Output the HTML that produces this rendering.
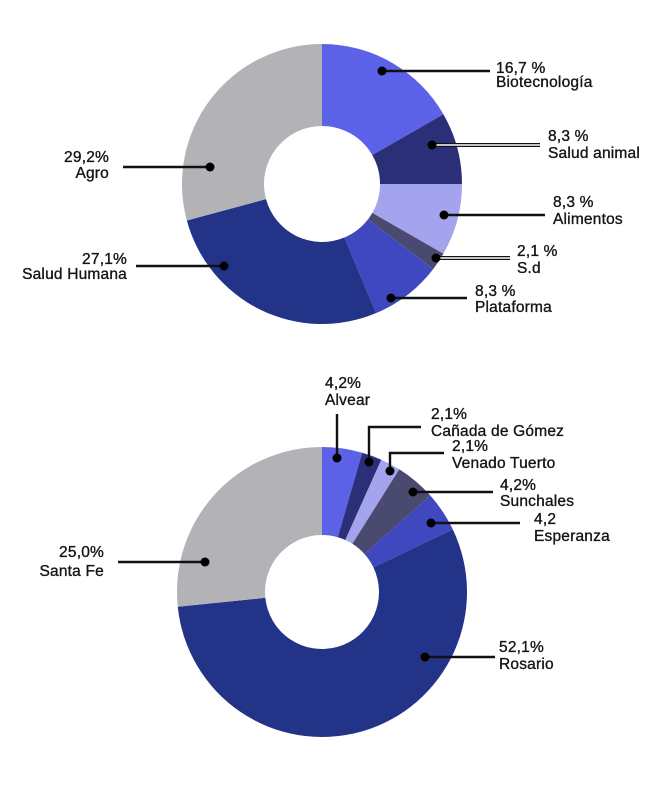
<!DOCTYPE html>
<html><head><meta charset="utf-8"><style>
body{margin:0;background:#fff;width:665px;height:800px;overflow:hidden}
svg text{font-family:"Liberation Sans",sans-serif;font-size:15.5px;fill:#151515;stroke:#151515;stroke-width:0.35px;letter-spacing:0.2px}
</style></head><body>
<svg id="s" width="665" height="800"></svg>
<script>
const topCats=["Biotecnología","Salud animal","Alimentos","S.d","Plataforma","Salud Humana","Agro"];
const topVals=[16.7,8.3,8.3,2.1,8.3,27.1,29.2];
const topLabels=["16,7 %","8,3 %","8,3 %","2,1 %","8,3 %","27,1%","29,2%"];
const botCats=["Alvear","Cañada de Gómez","Venado Tuerto","Sunchales","Esperanza","Rosario","Santa Fe"];
const botVals=[4.2,2.1,2.1,4.2,4.2,52.1,25.0];
const botLabels=["4,2%","2,1%","2,1%","4,2%","4,2","52,1%","25,0%"];
const colors=["#5b62e8","#2a2f78","#a4a4ee","#4a4a70","#4048c0","#233488","#b3b3b7"];
const NS="http://www.w3.org/2000/svg";
const svg=document.getElementById('s');
function mk(t,a,p){const e=document.createElementNS(NS,t);for(const k in a)e.setAttribute(k,a[k]);(p||svg).appendChild(e);return e;}
function donut(vals,cats,cx,cy,R,r,name){
  const g=mk('g',{});
  
  
  const tot=vals.reduce((a,b)=>a+b,0);let a0=0;
  vals.forEach((v,i)=>{
    const a1=a0+v/tot*Math.PI*2;
    const p=(a,rr)=>[cx+rr*Math.sin(a),cy-rr*Math.cos(a)];
    const [x0,y0]=p(a0,R),[x1,y1]=p(a1,R),[x2,y2]=p(a1,r),[x3,y3]=p(a0,r);
    const lg=(a1-a0)>Math.PI?1:0;
    const el=mk('path',{d:`M${x0},${y0}A${R},${R} 0 ${lg} 1 ${x1},${y1}L${x2},${y2}A${r},${r} 0 ${lg} 0 ${x3},${y3}Z`,fill:colors[i]},g);
    
    
    a0=a1;
  });
}
donut(topVals,topCats,322,184,140,58,'sector-donut');
donut(botVals,botCats,322,592,145,57,'city-donut');
function line(pts,dbl){
  const d='M'+pts.map(p=>p.join(',')).join('L');
  mk('path',{d,stroke:'#111',fill:'none','stroke-width':dbl?4:2.4});
  if(dbl)mk('path',{d:'M'+pts.slice(1).map(p=>p.join(',')).join('L'),stroke:'#fff',fill:'none','stroke-width':1.6});
  mk('circle',{cx:pts[0][0],cy:pts[0][1],r:4.5,fill:'#000'});
}
function lab(x,y1,y2,t1,t2,anchor,name){
  const g=mk('g',{});
  
  
  mk('text',{x,y:y1,'text-anchor':anchor},g).textContent=t1;
  mk('text',{x,y:y2,'text-anchor':anchor},g).textContent=t2;
}
// top chart
line([[382,71],[490,71]]);lab(496,73,87,topLabels[0],topCats[0],'start','label-biotecnologia');
line([[432,145],[430,145],[540,145]],true);lab(548,141,158,topLabels[1],topCats[1],'start','label-salud-animal');
line([[444,215],[545,215]]);lab(553,207,224,topLabels[2],topCats[2],'start','label-alimentos');
line([[436,258],[440,258],[510,258]],true);lab(517,256,273,topLabels[3],topCats[3],'start','label-sd');
line([[391,298],[467,298]]);lab(475,296,312,topLabels[4],topCats[4],'start','label-plataforma');
line([[224,266],[136,266]]);lab(127,264,279,topLabels[5],topCats[5],'end','label-salud-humana');
line([[210,167],[123,167]]);lab(109,162,178,topLabels[6],topCats[6],'end','label-agro');
// bottom chart
line([[337,458],[337,414]]);lab(325,388,405,botLabels[0],botCats[0],'start','label-alvear');
line([[369,462],[369,427],[421,427]]);lab(431,419,436,botLabels[1],botCats[1],'start','label-canada-de-gomez');
line([[390,471],[390,453],[444,453]]);lab(452,451,468,botLabels[2],botCats[2],'start','label-venado-tuerto');
line([[413,492],[493,492]]);lab(500,490,506,botLabels[3],botCats[3],'start','label-sunchales');
line([[431,523],[520,523]]);lab(534,524,541,botLabels[4],botCats[4],'start','label-esperanza');
line([[425,657],[495,657]]);lab(499,652,669,botLabels[5],botCats[5],'start','label-rosario');
line([[205,562],[118,562]]);lab(104,557,576,botLabels[6],botCats[6],'end','label-santa-fe');
</script>
</body></html>
